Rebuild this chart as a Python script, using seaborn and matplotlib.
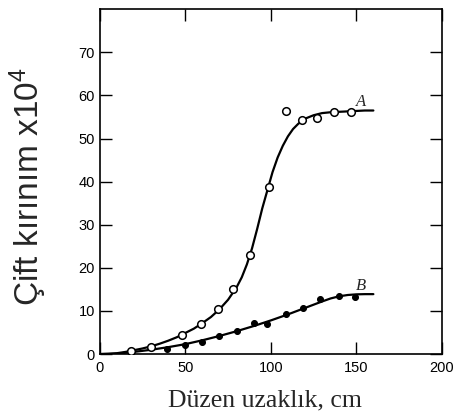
import numpy as np
import pandas as pd
import matplotlib
matplotlib.use("Agg")
import matplotlib.pyplot as plt
import seaborn as sns

# Measured birefringence (open circles, series A)
a_dist = [18, 30, 48, 59, 69, 78, 88, 99, 109, 118, 127, 137, 147]
a_val = [0.8, 1.6, 4.5, 7.0, 10.4, 15.0, 23.0, 38.7, 56.3, 54.2, 54.8, 56.2, 56.2]

# Measured birefringence (filled circles, series B)
b_dist = [39, 50, 60, 69.5, 80, 90, 98, 109, 119, 128.5, 140, 149]
b_val = [1.2, 2.0, 2.9, 4.3, 5.4, 7.1, 7.0, 9.3, 10.8, 12.7, 13.5, 13.3]

# Fitted curves read along the distance axis
fit_a_dist = [0, 5, 10, 15, 20, 25, 30, 35, 40, 45, 50, 55, 60, 65, 70, 75, 80,
              83, 86, 89, 92, 95, 98, 101, 104, 107, 110, 113, 116, 120, 125,
              130, 135, 140, 145, 150, 155, 160]
fit_a_val = [0, 0.05, 0.2, 0.5, 0.9, 1.3, 1.8, 2.4, 3.1, 3.9, 4.9, 5.9, 7.2, 8.6,
             10.4, 12.6, 15.5, 17.8, 20.8, 24.5, 29.0, 33.8, 38.0, 42.2, 45.6,
             48.3, 50.5, 52.2, 53.4, 54.6, 55.4, 55.9, 56.1, 56.2, 56.3, 56.4,
             56.5, 56.5]
fit_b_dist = [0, 10, 20, 30, 40, 50, 60, 70, 80, 90, 100, 110, 120, 130, 135, 140,
              145, 150, 155, 160]
fit_b_val = [0, 0.1, 0.5, 1.0, 1.6, 2.3, 3.2, 4.2, 5.3, 6.5, 7.8, 9.2, 10.7, 12.2,
             12.9, 13.4, 13.7, 13.85, 13.9, 13.9]

x_ticks = [0, 50, 100, 150, 200]
y_ticks = [0, 10, 20, 30, 40, 50, 60, 70]

sns.set_theme(style="ticks")
plt.rcParams["font.family"] = ["Liberation Sans", "DejaVu Sans"]
plt.rcParams["mathtext.default"] = "regular"

fig = plt.figure(figsize=(4.54, 4.19), dpi=100)
ax = fig.add_axes([0.220, 0.155, 0.753, 0.823])

line_kw = dict(color="black", linewidth=1.6, legend=False, ax=ax, estimator=None, sort=False)
sns.lineplot(data=pd.DataFrame({"x": fit_a_dist, "y": fit_a_val}), x="x", y="y", **line_kw)
sns.lineplot(data=pd.DataFrame({"x": fit_b_dist, "y": fit_b_val}), x="x", y="y", **line_kw)

sns.scatterplot(data=pd.DataFrame({"x": a_dist, "y": a_val}), x="x", y="y",
                marker="o", s=30, facecolor="white", edgecolor="black",
                linewidth=1.1, ax=ax, zorder=3, legend=False)
sns.scatterplot(data=pd.DataFrame({"x": b_dist, "y": b_val}), x="x", y="y",
                marker="o", s=18, color="black", edgecolor="black",
                linewidth=0.8, ax=ax, zorder=3, legend=False)

ax.text(153, 58.4, "A", fontsize=12, style="italic", family="Liberation Serif",
        ha="center", va="center")
ax.text(153, 15.9, "B", fontsize=12, style="italic", family="Liberation Serif",
        ha="center", va="center")

ax.set_xlim(0, 200)
ax.set_ylim(0, 80)
ax.set_xticks(x_ticks)
ax.set_yticks(y_ticks)
ax.set_xticklabels([str(v) for v in x_ticks])
ax.set_yticklabels([str(v) for v in y_ticks])
ax.tick_params(direction="in", length=8.5, width=1.0, top=True, right=True,
               labelsize=10.5, colors="black")
ax.tick_params(axis="x", pad=5.0)
ax.tick_params(axis="y", pad=3.5)
for sp in ax.spines.values():
    sp.set_visible(True)
    sp.set_linewidth(1.2)
    sp.set_color("black")

ax.set_xlabel("")
ax.set_ylabel("")
fig.text(0.062, 0.555, "Çift kırınım x10$^{4}$", rotation=90, fontsize=24,
         ha="center", va="center", family=["Liberation Sans", "DejaVu Sans"])
fig.text(0.583, 0.045, "Düzen uzaklık, cm", fontsize=18.5, ha="center",
         va="center", family="Liberation Serif")

fig.savefig("out.png", dpi=100)
